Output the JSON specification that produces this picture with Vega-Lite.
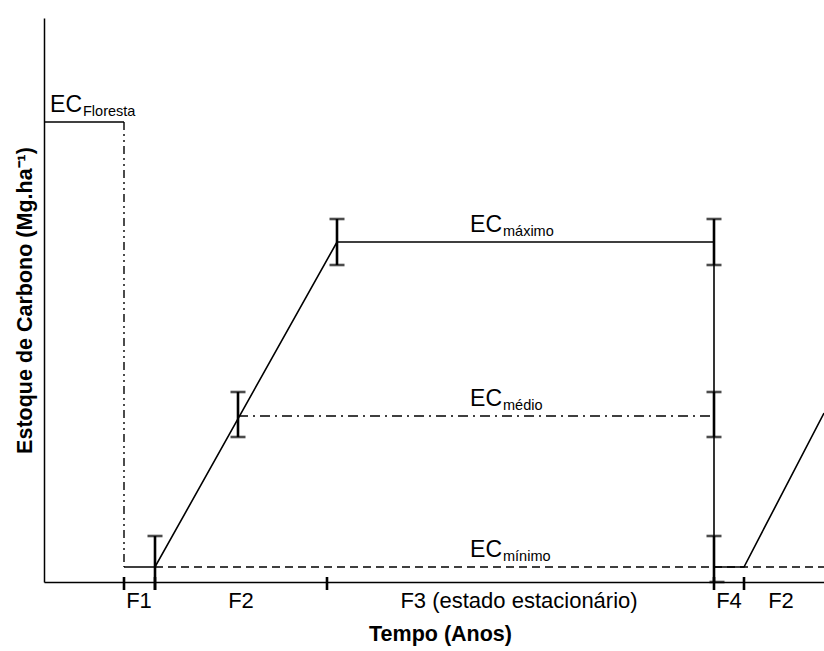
{
  "$schema": "https://vega.github.io/schema/vega-lite/v6.json",
  "width": 780,
  "height": 564,
  "autosize": {"type": "none"},
  "padding": {"left": 44, "top": 18, "right": 0, "bottom": 69},
  "background": "white",
  "config": {"view": {"stroke": null}, "font": "Liberation Sans"},
  "datasets": {
    "lines": [
      {"series": "solid", "order": 1, "x": 0, "y": 460},
      {"series": "solid", "order": 2, "x": 80, "y": 460},
      {"series": "base1", "order": 1, "x": 80, "y": 15},
      {"series": "base1", "order": 2, "x": 111, "y": 15},
      {"series": "base1", "order": 3, "x": 293, "y": 340},
      {"series": "base1", "order": 4, "x": 670, "y": 340},
      {"series": "vert", "order": 1, "x": 670, "y": 363},
      {"series": "vert", "order": 2, "x": 670, "y": 0},
      {"series": "ciclo2", "order": 1, "x": 670, "y": 15},
      {"series": "ciclo2", "order": 2, "x": 700, "y": 15},
      {"series": "ciclo2", "order": 3, "x": 780, "y": 169}
    ],
    "transicao": [
      {"order": 1, "x": 80, "y": 460},
      {"order": 2, "x": 80, "y": 15}
    ],
    "medio": [
      {"order": 1, "x": 194, "y": 166},
      {"order": 2, "x": 670, "y": 166}
    ],
    "minimo": [
      {"order": 1, "x": 111, "y": 15},
      {"order": 2, "x": 780, "y": 15}
    ],
    "bars": [
      {"x": 111, "lo": -8, "hi": 46},
      {"x": 194, "lo": 145, "hi": 190},
      {"x": 293, "lo": 317, "hi": 363},
      {"x": 670, "lo": 317, "hi": 363},
      {"x": 670, "lo": 145, "hi": 190},
      {"x": 670, "lo": 0, "hi": 46}
    ],
    "caps": [
      {"x": 111, "y": 46},
      {"x": 194, "y": 145}, {"x": 194, "y": 190},
      {"x": 293, "y": 317}, {"x": 293, "y": 363},
      {"x": 670, "y": 317}, {"x": 670, "y": 363},
      {"x": 670, "y": 145}, {"x": 670, "y": 190},
      {"x": 670, "y": 46}, {"x": 673, "y": 0}
    ],
    "ticks": [
      {"x": 80}, {"x": 111}, {"x": 283}, {"x": 670}, {"x": 700}
    ],
    "fases": [
      {"label": "F1", "x": 95},
      {"label": "F2", "x": 197},
      {"label": "F3 (estado estacionário)", "x": 475},
      {"label": "F4", "x": 685},
      {"label": "F2", "x": 737}
    ],
    "ec": [
      {"sub": "Floresta", "x": 38, "y": 470},
      {"sub": "máximo", "x": 458, "y": 350},
      {"sub": "médio", "x": 458, "y": 176},
      {"sub": "mínimo", "x": 458, "y": 25}
    ]
  },
  "layer": [
    {
      "data": {"name": "lines"},
      "mark": {"type": "line", "color": "black", "strokeWidth": 1.6},
      "encoding": {
        "x": {"field": "x", "type": "quantitative", "scale": {"domain": [0, 780], "nice": false, "zero": false},
              "axis": {"title": "Tempo (Anos)", "labels": false, "ticks": false, "grid": false, "domainColor": "black", "domainWidth": 1.5,
                       "titleFont": "Liberation Sans", "titleFontSize": 21.5, "titleFontWeight": "bold", "titleColor": "black",
                       "titleX": 396, "titleY": 58, "titleBaseline": "alphabetic"}},
        "y": {"field": "y", "type": "quantitative", "scale": {"domain": [0, 564], "nice": false, "zero": false},
              "axis": {"title": "Estoque de Carbono (Mg.ha⁻¹)", "labels": false, "ticks": false, "grid": false, "domainColor": "black", "domainWidth": 1.5,
                       "titleFont": "Liberation Sans", "titleFontSize": 21.5, "titleFontWeight": "bold", "titleColor": "black", "titlePadding": 8}},
        "detail": {"field": "series"},
        "order": {"field": "order"}
      }
    },
    {
      "data": {"name": "transicao"},
      "mark": {"type": "line", "color": "black", "strokeWidth": 1.4, "strokeDash": [8, 4, 2, 4, 2, 4]},
      "encoding": {
        "x": {"field": "x", "type": "quantitative"},
        "y": {"field": "y", "type": "quantitative"},
        "order": {"field": "order"}
      }
    },
    {
      "data": {"name": "medio"},
      "mark": {"type": "line", "color": "black", "strokeWidth": 1.5, "strokeDash": [10, 5, 2, 5]},
      "encoding": {
        "x": {"field": "x", "type": "quantitative"},
        "y": {"field": "y", "type": "quantitative"},
        "order": {"field": "order"}
      }
    },
    {
      "data": {"name": "minimo"},
      "mark": {"type": "line", "color": "black", "strokeWidth": 1.5, "strokeDash": [8, 5]},
      "encoding": {
        "x": {"field": "x", "type": "quantitative"},
        "y": {"field": "y", "type": "quantitative"},
        "order": {"field": "order"}
      }
    },
    {
      "data": {"name": "bars"},
      "mark": {"type": "rule", "color": "black", "strokeWidth": 2.6},
      "encoding": {
        "x": {"field": "x", "type": "quantitative"},
        "y": {"field": "lo", "type": "quantitative"},
        "y2": {"field": "hi"}
      }
    },
    {
      "data": {"name": "caps"},
      "mark": {"type": "tick", "color": "black", "thickness": 2.6, "size": 15, "orient": "horizontal"},
      "encoding": {
        "x": {"field": "x", "type": "quantitative"},
        "y": {"field": "y", "type": "quantitative"}
      }
    },
    {
      "data": {"name": "ticks"},
      "mark": {"type": "rule", "color": "black", "strokeWidth": 2.6},
      "encoding": {
        "x": {"field": "x", "type": "quantitative"},
        "y": {"datum": -8, "type": "quantitative"},
        "y2": {"datum": 5}
      }
    },
    {
      "data": {"name": "fases"},
      "mark": {"type": "text", "font": "Liberation Sans", "fontSize": 22, "color": "black", "align": "center", "baseline": "alphabetic"},
      "encoding": {
        "x": {"field": "x", "type": "quantitative"},
        "y": {"datum": -26, "type": "quantitative"},
        "text": {"field": "label"}
      }
    },
    {
      "data": {"name": "ec"},
      "mark": {"type": "text", "font": "Liberation Sans", "fontSize": 23, "color": "black", "align": "right", "baseline": "alphabetic"},
      "encoding": {
        "x": {"field": "x", "type": "quantitative"},
        "y": {"field": "y", "type": "quantitative"},
        "text": {"value": "EC"}
      }
    },
    {
      "data": {"name": "ec"},
      "mark": {"type": "text", "font": "Liberation Sans", "fontSize": 14.5, "color": "black", "align": "left", "baseline": "alphabetic", "dx": 1, "dy": 4},
      "encoding": {
        "x": {"field": "x", "type": "quantitative"},
        "y": {"field": "y", "type": "quantitative"},
        "text": {"field": "sub"}
      }
    }
  ]
}
